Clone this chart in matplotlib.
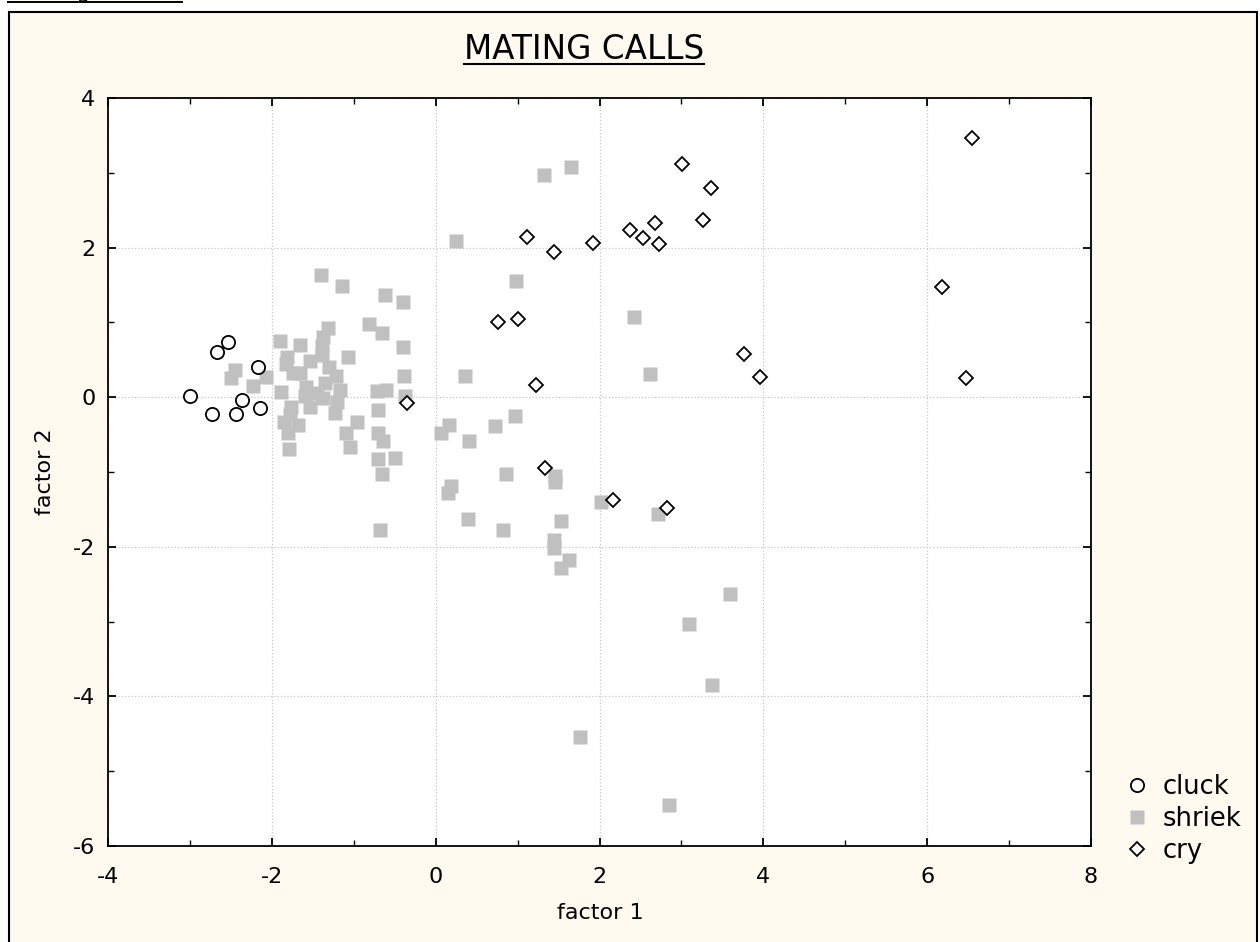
import matplotlib
matplotlib.use('Agg')
import matplotlib.pyplot as plt
from matplotlib.patches import Rectangle
from matplotlib.lines import Line2D
from matplotlib.ticker import MultipleLocator

plt.rcParams['font.family'] = 'DejaVu Sans'
plt.rcParams['axes.unicode_minus'] = False

# values
cluck_x = [-3.00, -2.73, -2.67, -2.54, -2.44, -2.36, -2.17, -2.14]
cluck_y = [0.01, -0.22, 0.61, 0.74, -0.22, -0.04, 0.41, -0.14]

shriek_x = [-1.40, -1.14, -0.62, -0.40, -0.81, -0.66, -1.32, -1.37, -1.90, -1.66,
            -0.40, -1.39, -1.82, -1.07, -1.39, -1.83, -1.53, -1.30, -1.74, -1.66,
            -1.22, -0.39, -2.07, -2.23, -1.35, -1.58, -1.89, -1.17, -0.72, -0.61,
            -1.45, -1.60, -1.37, -0.37, -1.21, -1.76, -1.53, -0.71, -1.23, -1.78,
            -0.96, -1.85, -1.68, -1.09, -0.71, -1.80, -1.05, -0.64, -0.70, -0.50,
            -1.79, -0.66, -0.68, -2.45, -2.50,
            0.25, 1.32, 1.65, 0.98, 2.42, 2.62, 0.36, 0.97, 0.16, 0.07,
            0.73, 0.41, 0.86, 1.46, 1.46, 0.19, 0.15, 2.02, 2.72, 0.40,
            1.53, 0.82, 1.44, 1.44, 1.63, 1.53, 3.59, 3.09, 3.37, 1.76, 2.85]
shriek_y = [1.63, 1.49, 1.36, 1.27, 0.98, 0.86, 0.92, 0.81, 0.75, 0.70,
            0.67, 0.68, 0.54, 0.54, 0.57, 0.45, 0.48, 0.40, 0.32, 0.33,
            0.28, 0.28, 0.27, 0.15, 0.19, 0.13, 0.07, 0.10, 0.08, 0.10,
            0.05, 0.01, -0.01, 0.01, -0.06, -0.13, -0.13, -0.17, -0.21, -0.22,
            -0.33, -0.33, -0.37, -0.48, -0.48, -0.48, -0.66, -0.59, -0.82, -0.81,
            -0.69, -1.03, -1.77, 0.36, 0.26,
            2.09, 2.97, 3.08, 1.55, 1.07, 0.31, 0.28, -0.25, -0.37, -0.48,
            -0.38, -0.59, -1.03, -1.05, -1.13, -1.19, -1.28, -1.40, -1.56, -1.63,
            -1.66, -1.77, -1.91, -2.02, -2.18, -2.29, -2.63, -3.03, -3.85, -4.54, -5.45]

cry_x = [3.01, 3.36, 3.26, 2.68, 2.37, 2.53, 2.73, 1.12, 1.45, 1.92, 1.01,
         0.76, 3.76, 3.96, 1.22, 1.33, 2.17, 2.82, -0.35, 6.55, 6.18, 6.47]
cry_y = [3.12, 2.80, 2.37, 2.33, 2.24, 2.13, 2.05, 2.14, 1.94, 2.06, 1.05,
         1.01, 0.58, 0.27, 0.16, -0.94, -1.38, -1.48, -0.08, 3.46, 1.47, 0.26]

W, H = 1260, 942
fig = plt.figure(figsize=(W / 100, H / 100), dpi=100)
fig.patch.set_facecolor('white')

# cream panel with a black border (bottom runs off the page)
panel = Rectangle((9 / W, -0.05), (1257 - 9) / W, 1 - 12 / H + 0.05,
                  transform=fig.transFigure, facecolor='#FFFAEF',
                  edgecolor='black', linewidth=1.5, zorder=-5)
fig.patches.append(panel)

# heading above the panel, mostly cut off
head = fig.text(59 / W, 1 + 2 / H, 'Figure 1', ha='left', va='baseline', fontsize=16)
fig.add_artist(Line2D([8 / W, 182 / W], [1 - 1.5 / H, 1 - 1.5 / H],
                      transform=fig.transFigure, color='black', linewidth=1.4))

ax = fig.add_axes([108 / W, 1 - 846 / H, (1091 - 108) / W, (846 - 98) / H])
ax.set_zorder(1)
ax.set_facecolor('white')

ax.plot(shriek_x, shriek_y, 's', color='#C0C0C0', ms=10.5, mec='none', label='shriek', zorder=3)
ax.plot(cluck_x, cluck_y, 'o', mfc='white', mec='black', ms=9.5, mew=1.3, label='cluck', zorder=4)
ax.plot(cry_x, cry_y, 'D', mfc='white', mec='black', ms=7.3, mew=1.3, label='cry', zorder=5)

ax.set_xlim(-4, 8)
ax.set_ylim(-6, 4)
ax.xaxis.set_major_locator(MultipleLocator(2))
ax.xaxis.set_minor_locator(MultipleLocator(1))
ax.yaxis.set_major_locator(MultipleLocator(2))
ax.yaxis.set_minor_locator(MultipleLocator(1))
ax.grid(True, which='major', color='#C8C8C8', linestyle=':', linewidth=0.9)
ax.set_axisbelow(True)
ax.tick_params(which='both', direction='in', top=True, right=True, labelsize=16, color='black')
ax.tick_params(which='major', length=6, width=1.3)
ax.tick_params(which='minor', length=4, width=1.0)
ax.tick_params(axis='x', pad=15)
ax.tick_params(axis='y', pad=9)
for s in ax.spines.values():
    s.set_linewidth(1.3)

# title (underlined) and axis labels
title = fig.text(584 / W, 1 - 59 / H, 'MATING CALLS', ha='center', va='baseline', fontsize=23.5)
fig.text(600 / W, 1 - 913 / H, 'factor 1', ha='center', va='center', fontsize=16)
fig.text(45 / W, 1 - 472 / H, 'factor 2', ha='center', va='center', fontsize=16, rotation=90)

fig.canvas.draw()
bb = title.get_window_extent().transformed(fig.transFigure.inverted())
fig.add_artist(Line2D([bb.x0, bb.x1], [1 - 64 / H, 1 - 64 / H],
                      transform=fig.transFigure, color='black', linewidth=1.5))

# legend in the right margin
h, l = ax.get_legend_handles_labels()
order = [1, 0, 2]
fig.legend([h[i] for i in order], [l[i] for i in order],
           loc='upper left', bbox_to_anchor=(1124 / W, 1 - 774 / H),
           frameon=False, fontsize=18.5, handlelength=1.0, handletextpad=0.51,
           labelspacing=0.24, borderpad=0, borderaxespad=0)

fig.savefig('out.png', dpi=100, facecolor='white')
